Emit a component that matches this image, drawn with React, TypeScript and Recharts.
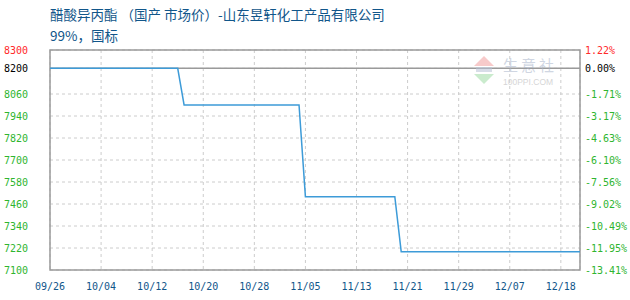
import { CartesianGrid, Line, LineChart, ReferenceArea, ReferenceLine, XAxis, YAxis } from 'recharts';

// 醋酸异丙酯 daily quotes: breakpoints of the step series (day index, price)
const dayIndex = [0, 20, 21, 39, 40, 54, 55, 83];
const prices = [8200, 8200, 8000, 8000, 7500, 7500, 7200, 7200];

// bottom axis: one label every 8 trading days
const dateTicks = [0, 8, 16, 24, 32, 40, 48, 56, 64, 72, 80];
const dateLabels = ['09/26', '10/04', '10/12', '10/20', '10/28', '11/05', '11/13', '11/21', '11/29', '12/07', '12/18'];

const priceTicks = [7100, 7220, 7340, 7460, 7580, 7700, 7820, 7940, 8060, 8200, 8300];
const basePrice = 8200;
const priceMin = 7100;
const priceMax = 8300;

const series = dayIndex.map((d, k) => ({ day: d, price: prices[k] }));

const MONO = '"DejaVu Sans Mono", monospace';
const CJK = '"Noto Sans CJK SC", sans-serif';

function tickColor(v: number) {
  if (v > basePrice) return '#ff2a2a';
  if (v === basePrice) return '#000000';
  return '#2fb52f';
}

const pctLabel = (v: number) => `${(((v - basePrice) / basePrice) * 100).toFixed(2)}%`;

function LeftTick(props: any) {
  const { x, y, payload } = props;
  return (
    <text x={x} y={y} dy="0.35em" textAnchor="end" fontFamily={MONO} fontSize={10} fill={tickColor(payload.value)}>
      {payload.value}
    </text>
  );
}

function RightTick(props: any) {
  const { x, y, payload } = props;
  return (
    <text x={x} y={y} dy="0.35em" textAnchor="start" fontFamily={MONO} fontSize={10} fill={tickColor(payload.value)}>
      {pctLabel(payload.value)}
    </text>
  );
}

function DateTick(props: any) {
  const { x, y, payload } = props;
  const idx = dateTicks.indexOf(payload.value);
  return (
    <text x={x} y={y} dy="0.71em" textAnchor="middle" fontFamily={MONO} fontSize={10} fill="#11568a">
      {dateLabels[idx]}
    </text>
  );
}

function Watermark() {
  return (
    <svg width={100} height={40} style={{ position: 'absolute', left: 470, top: 54, opacity: 0.55 }}>
      <polygon points="4,12 14,2 24,12" fill="#f2a0a0" />
      <rect x={6} y={13} width={16} height={5} fill="#b9c3d6" />
      <polygon points="4,20 24,20 14,30" fill="#9fdca6" />
      <text x={33} y={17} fontFamily={CJK} fontSize={15} fill="#aab6cc" letterSpacing={3}>
        生意社
      </text>
      <text x={33} y={31} fontFamily="Arial, sans-serif" fontSize={8.5} fill="#b4b4b4">
        100PPI.COM
      </text>
    </svg>
  );
}

export default function App() {
  return (
    <div style={{ position: 'absolute', left: 0, top: 0, width: 630, height: 300, background: '#fff' }}>
      <div
        style={{
          position: 'absolute',
          left: 50,
          top: 4,
          fontFamily: CJK,
          fontSize: 13.5,
          color: '#11568a',
          whiteSpace: 'pre',
          lineHeight: '20px',
        }}
      >
        醋酸异丙酯 （国产 市场价）-山东昱轩化工产品有限公司
      </div>
      <div
        style={{
          position: 'absolute',
          left: 50,
          top: 25,
          fontFamily: CJK,
          fontSize: 13.5,
          color: '#11568a',
          lineHeight: '20px',
        }}
      >
        99%，国标
      </div>
      <LineChart
        width={630}
        height={300}
        data={series}
        margin={{ top: 50, right: 0, bottom: 0, left: 0 }}
        style={{ position: 'absolute', left: 0, top: 0 }}
      >
        <CartesianGrid yAxisId="left" stroke="#cccccc" strokeDasharray="3 3" />
        <XAxis
          dataKey="day"
          type="number"
          domain={[0, 83]}
          ticks={dateTicks}
          interval={0}
          axisLine={false}
          tickLine={false}
          tickSize={0}
          tickMargin={13}
          tick={<DateTick />}
          height={30}
        />
        <YAxis
          yAxisId="left"
          orientation="left"
          width={50}
          domain={[priceMin, priceMax]}
          ticks={priceTicks}
          interval={0}
          axisLine={false}
          tickLine={false}
          tickSize={0}
          tickMargin={22}
          tick={<LeftTick />}
        />
        <YAxis
          yAxisId="right"
          orientation="right"
          width={50}
          domain={[priceMin, priceMax]}
          ticks={priceTicks}
          interval={0}
          axisLine={false}
          tickLine={false}
          tickSize={0}
          tickMargin={5}
          tick={<RightTick />}
        />
        <ReferenceArea
          yAxisId="left"
          x1={0}
          x2={83}
          y1={priceMin}
          y2={priceMax}
          fill="none"
          stroke="#9a9a9a"
          strokeWidth={1.5}
          ifOverflow="visible"
        />
        <ReferenceLine yAxisId="left" y={basePrice} stroke="#9a9a9a" strokeWidth={1.5} />
        {/* same prices on the percent axis, kept invisible so the right ticks render */}
        <Line
          yAxisId="right"
          type="linear"
          dataKey="price"
          stroke="none"
          dot={false}
          activeDot={false}
          isAnimationActive={false}
        />
        <Line
          yAxisId="left"
          type="linear"
          dataKey="price"
          stroke="#3d9bd8"
          strokeWidth={1.5}
          dot={false}
          activeDot={false}
          isAnimationActive={false}
        />
      </LineChart>
      <Watermark />
    </div>
  );
}
